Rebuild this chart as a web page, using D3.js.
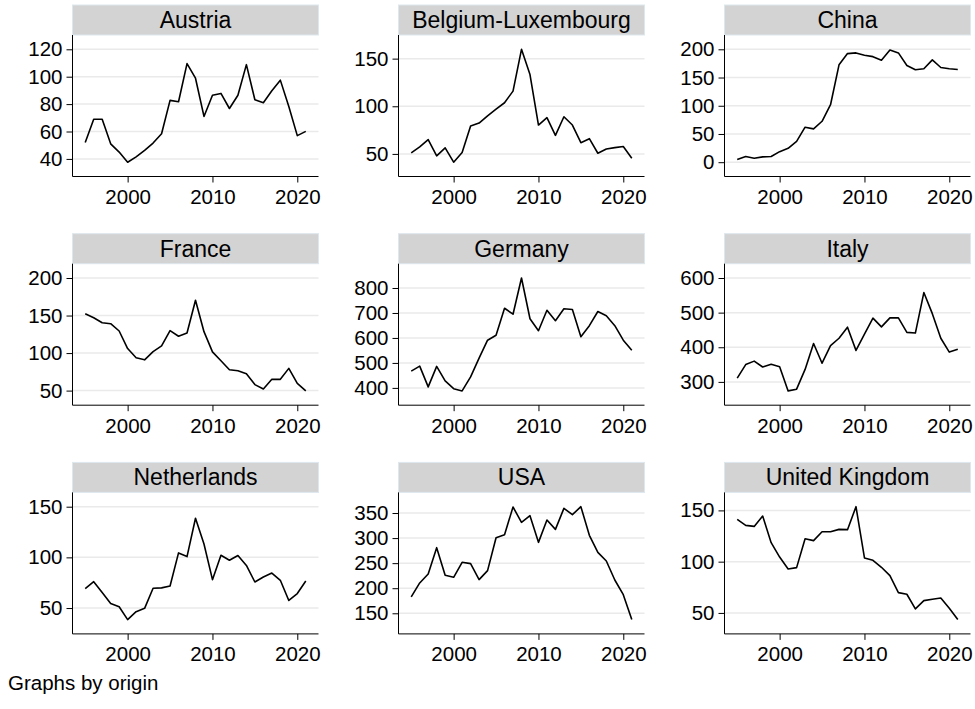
<html>
<head>
  <style type="text/css">
    body { margin: 0; background: #fff; }
    svg text { font-family: "Liberation Sans", Arial, sans-serif; fill: #000; }
    .axis .domain { display: none; }
    .axis line { stroke: #000; }
  </style>
</head>
<body>
  <div id="viz">
    <svg width="975" height="709"></svg>
  </div>
  <script src="https://cdnjs.cloudflare.com/ajax/libs/d3/7.8.5/d3.min.js"></script>
  <script>
    // data
    const years = [1995, 1996, 1997, 1998, 1999, 2000, 2001, 2002, 2003, 2004, 2005, 2006, 2007, 2008,
                   2009, 2010, 2011, 2012, 2013, 2014, 2015, 2016, 2017, 2018, 2019, 2020, 2021];

    const countries = ["Austria", "Belgium-Luxembourg", "China", "France", "Germany", "Italy",
                       "Netherlands", "USA", "United Kingdom"];

    const austria = [52, 69, 69, 51, 45, 37.6, 41.5, 46.3, 51.6, 58.4, 82.7, 81.7, 109.6, 98.9,
                     71, 86.5, 87.8, 76.8, 86.5, 108.8, 83.2, 81, 89.7, 97.5, 78.3, 57, 60.1];
    const belgiumLux = [51, 57.3, 65, 47.9, 56.3, 41.3, 51.4, 79.3, 82.4, 90, 97, 103.7, 115.9, 159.8,
                        133.3, 80.3, 88, 69.5, 89, 80.3, 61.8, 66, 50.7, 55.2, 56.6, 57.7, 45.5];
    const china = [4.7, 10, 7, 9.4, 10, 18.7, 24.6, 36.8, 62, 59, 72.5, 101.8, 172.5, 192.4,
                   193.6, 189.5, 187, 180.7, 198.8, 193.6, 171.3, 163.7, 165.5, 181.3, 167.8, 165.5, 164.3];
    const france = [152.4, 147, 140.4, 139.1, 129.4, 106, 93.7, 91, 102, 109.6, 129.9, 122.4, 126.8, 170.4,
                    128.5, 101.6, 89.7, 77.8, 76.5, 72.5, 58, 52.2, 65, 65, 79.6, 59.7, 49.6];
    const germany = [467, 487, 404, 486, 428, 397, 388, 444, 519, 591, 611, 719, 695, 840,
                     677, 629, 711, 669, 717, 714, 605, 649, 706, 689, 649, 591, 551];
    const italy = [311, 350, 360, 343, 351, 344, 274, 279, 336, 411, 354, 405, 426, 458,
                   391, 438, 484, 459, 485, 485, 443, 441, 558, 497, 426, 386, 394];
    const netherlands = [69.2, 76, 65.3, 54.6, 51.3, 38.6, 46.4, 49.7, 69.5, 69.9, 71.8, 104.4, 100.8, 138.6,
                         113.2, 78, 102.1, 97.2, 101.8, 92, 75.7, 80.6, 84.5, 77.4, 57.5, 64.3, 76.7];
    const usa = [182.6, 210.5, 228.4, 280.9, 225.7, 221.8, 251.7, 249, 217.1, 235, 300.8, 306.8, 362, 331.4,
                 344.7, 291.5, 336, 317.4, 359.3, 346.7, 362.6, 305.5, 271.6, 254.3, 216.4, 187.2, 137.4];
    const uk = [141.2, 135.4, 134.4, 144.5, 118.5, 104.5, 92.9, 94.2, 122.4, 120.5, 129.2, 129.2, 131.5, 131.2,
                153.6, 103.6, 101.3, 94.5, 86.4, 69.8, 68.2, 53.9, 62, 63.3, 64.6, 54.5, 43.5];

    const series = [austria, belgiumLux, china, france, germany, italy, netherlands, usa, uk];

    const yTicks = [
      [40, 60, 80, 100, 120],
      [50, 100, 150],
      [0, 50, 100, 150, 200],
      [50, 100, 150, 200],
      [400, 500, 600, 700, 800],
      [300, 400, 500, 600],
      [50, 100, 150],
      [150, 200, 250, 300, 350],
      [50, 100, 150]
    ];
    const xTicks = [2000, 2010, 2020];
    const note = "Graphs by origin";

    const svg = d3.select("svg");

    const panelW = 246,
          headH = 30,
          plotH = 141.5,
          pad = 14.3;

    const x = d3.scaleLinear()
      .domain([1993.5, 2022.5])
      .range([0, panelW]);

    countries.forEach((name, i) => {
      const col = i % 3,
            row = Math.floor(i / 3);
      const left = 72.5 + col * 326,
            top = 5 + row * 228.7;

      const g = svg.append("g")
        .attr("transform", "translate(" + left + "," + top + ")");

      // header strip
      g.append("rect")
        .attr("x", 0).attr("y", 0)
        .attr("width", panelW).attr("height", headH)
        .attr("fill", "#d3d3d3")
        .attr("stroke", "#dde7ee")
        .attr("stroke-width", 1);

      g.append("text")
        .attr("x", panelW / 2)
        .attr("y", headH / 2 + 8)
        .attr("text-anchor", "middle")
        .attr("font-size", 23)
        .text(name);

      const pg = g.append("g")
        .attr("transform", "translate(0," + headH + ")");

      const vals = series[i];
      const y = d3.scaleLinear()
        .domain(d3.extent(vals.concat(yTicks[i])))
        .range([plotH - pad, pad]);

      // grid
      pg.append("g")
        .selectAll("line")
        .data(yTicks[i])
        .join("line")
          .attr("x1", 0)
          .attr("x2", panelW)
          .attr("y1", d => y(d))
          .attr("y2", d => y(d))
          .attr("stroke", "#eaeaea")
          .attr("stroke-width", 1.5);

      pg.append("g")
        .attr("class", "axis axis--y")
        .call(d3.axisLeft(y).tickValues(yTicks[i]).tickSize(6).tickPadding(4))
        .selectAll("text")
          .attr("font-size", 20.5);

      pg.append("g")
        .attr("class", "axis axis--x")
        .attr("transform", "translate(0," + plotH + ")")
        .call(d3.axisBottom(x).tickValues(xTicks).tickFormat(d3.format("d")).tickSize(6).tickPadding(7))
        .selectAll("text")
          .attr("font-size", 20.5);

      // axis lines
      pg.append("line")
        .attr("x1", 0).attr("x2", 0)
        .attr("y1", 0).attr("y2", plotH)
        .attr("stroke", "#000").attr("stroke-width", 1);
      pg.append("line")
        .attr("x1", 0).attr("x2", panelW)
        .attr("y1", plotH).attr("y2", plotH)
        .attr("stroke", "#000").attr("stroke-width", 1);

      pg.append("path")
        .datum(years.map((yr, k) => [yr, vals[k]]))
        .attr("fill", "none")
        .attr("stroke", "#000")
        .attr("stroke-width", 1.6)
        .attr("stroke-linejoin", "round")
        .attr("d", d3.line().x(d => x(d[0])).y(d => y(d[1])));
    });

    svg.append("text")
      .attr("x", 8)
      .attr("y", 690)
      .attr("font-size", 20.5)
      .text(note);
  </script>
</body>
</html>
